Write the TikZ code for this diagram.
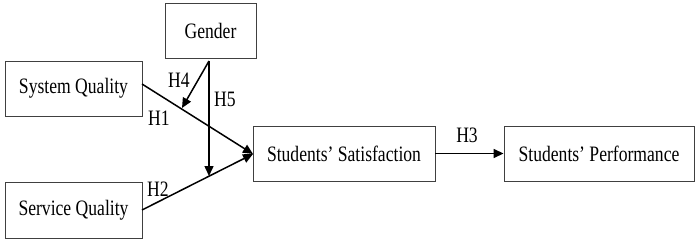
\documentclass[tikz,border=0pt]{standalone}
\usepackage{fontspec}
\setmainfont{Liberation Serif}[FakeStretch=0.8]
\usetikzlibrary{arrows.meta}
\begin{document}
\begin{tikzpicture}[x=1pt,y=-1pt,
  box/.style={draw=black!75,line width=0.9pt,minimum height=0,inner sep=0,font=\fontsize{22}{24}\selectfont},
  arr/.style={line width=1.5pt,-{Triangle[length=10pt,width=9pt]}},
  lab/.style={font=\fontsize{22}{24}\selectfont,inner sep=0}]
\useasboundingbox (0,0) rectangle (700,246);
\node[box,minimum width=91pt,minimum height=55pt] (g) at (210.5,30.5) {Gender};
\node[box,minimum width=137pt,minimum height=55pt] (sys) at (73.5,88.5) {System Quality};
\node[box,minimum width=137pt,minimum height=56pt] (ser) at (73.5,210) {Service Quality};
\node[box,minimum width=182pt,minimum height=55pt] (sat) at (344,153.5) {Students’ Satisfaction};
\node[box,minimum width=190pt,minimum height=55pt] (perf) at (599,153.5) {Students’ Performance};
\coordinate (sysout) at (142,84);
\coordinate (serout) at (142,210);
\coordinate (satin) at (253,154);
\coordinate (gout) at (209,61);
\coordinate (h4end) at (182,108);
\coordinate (h5end) at (209,176);
\draw[arr] (sysout) -- (satin);
\draw[arr] (serout) -- (satin);
\draw[arr] (gout) -- (h4end);
\draw[arr] (gout) -- (h5end);
\draw[arr] (sat.east) -- (perf.west);
\node[lab] (h4) at (179,80) {H4};
\node[lab] (h5) at (225,99) {H5};
\node[lab] (h1) at (159,118) {H1};
\node[lab] (h2) at (158,189) {H2};
\node[lab] (h3) at (467,135) {H3};
\end{tikzpicture}
\end{document}
